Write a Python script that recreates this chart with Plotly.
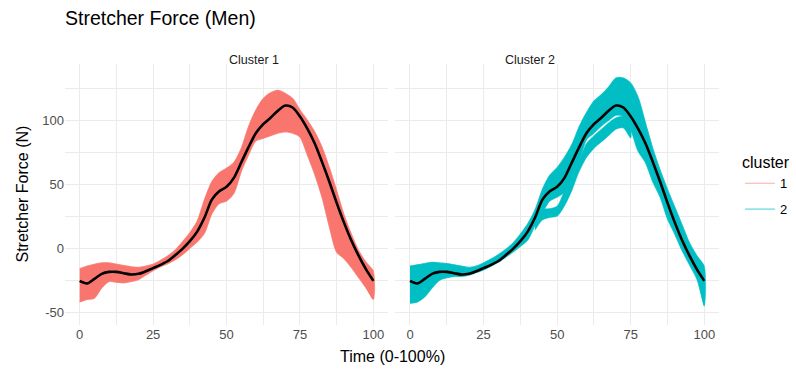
import plotly.graph_objects as go

# ---- data ----
time_pct = [0, 2.5, 5, 7.5, 10, 12.5, 15, 17.5, 20, 22.5, 25, 27.5, 30, 32.5, 35, 37.5, 40,
            42.5, 45, 47.5, 50, 52.5, 55, 57.5, 60, 62.5, 65, 67.5, 70, 72.5, 75, 77.5, 80,
            82.5, 85, 87.5, 90, 92.5, 95, 97.5, 100]

mean_force = [-25.5, -27.5, -24, -20, -18.5, -18.5, -19.5, -20.5, -20, -18, -15.5, -13, -10,
              -5.5, -0.5, 5.5, 13, 24, 38, 44.5, 48, 55, 67, 79, 90, 97, 102, 107.5, 111.5,
              110, 103, 93.5, 82, 67.5, 52, 35.5, 20, 6, -6, -16.5, -25.5]

c1_upper = [-16, -14, -12.5, -11.5, -11.5, -12.5, -13.5, -14.5, -15, -14, -12.5, -9.5, -6,
            -1.5, 5, 12, 21, 38, 52, 59, 62.5, 67, 78, 95, 108, 117, 121.5, 123.5, 121, 117,
            108, 100, 91, 79, 63, 45, 26, 11, -2, -11, -18]
c1_lower = [-42, -40, -39, -31, -26, -26.5, -27, -26, -24.5, -21, -17.5, -14.5, -12, -9, -5,
            0, 5, 12, 27, 35, 37, 43, 60, 73, 84, 86, 88, 90, 91, 90, 87, 73, 58, 40, 17, -3,
            -8, -15, -23, -31, -40]

c2_upper = [-14, -13, -12, -11, -11.5, -12, -13, -14, -15, -14, -11.5, -8.5, -5, -1, 4, 11,
            19, 30, 46, 57, 63, 71, 81, 95, 106, 115, 120, 126, 133, 133, 129, 118, 98, 78,
            61, 46, 32, 18, 4, -6, -14]
c2_main_lower = [-43, -42, -38, -31, -25, -23, -22, -22, -21, -19, -17, -14, -11, -7, -3,
                 1.5, 6.5, 18, 28, 37, 40, 44, 55, 68, 85, 90, 95.5, 100, 104, 103, 93, 76,
                 67, 52, 40, 23, 11, -2, -13, -24, -45]
strand_time = [42.5, 45, 47.5, 50, 52.5, 55, 57.5, 60, 62.5, 65, 67.5, 70, 72.5, 75]
c2_strand_upper = [20, 30, 31, 33, 45, 55, 68, 82, 88, 93, 98, 102, 103, 93]
c2_strand_lower = [14, 22, 24, 25, 33, 45, 60, 71, 78, 83, 88, 93, 94, 86]

clusters = ["1", "2"]
cluster_colors = ["#F8766D", "#00BFC4"]
facet_titles = ["Cluster 1", "Cluster 2"]
x_ticks = [0, 25, 50, 75, 100]
x_tick_text = ["0", "25", "50", "75", "100"]
y_ticks = [-50, 0, 50, 100]
y_tick_text = ["-50", "0", "50", "100"]

FONT = "Liberation Sans, Arial, sans-serif"

fig = go.Figure()


def band(xs, hi, lo, color, xa, ya):
    fig.add_trace(go.Scatter(
        x=list(xs) + list(xs)[::-1], y=list(hi) + list(lo)[::-1],
        fill="toself", fillcolor=color, mode="lines",
        line=dict(color=color, width=0.5, shape="spline", smoothing=0.8),
        hoverinfo="skip", showlegend=False, xaxis=xa, yaxis=ya))


def edge(xs, ys, color, xa, ya, name=None, legend=False):
    fig.add_trace(go.Scatter(
        x=xs, y=ys, mode="lines", name=name, legendgroup=name,
        line=dict(color=color, width=1.2, shape="spline", smoothing=0.8),
        opacity=0.6, showlegend=legend, xaxis=xa, yaxis=ya))


# cluster 1 panel
band(time_pct, c1_upper, c1_lower, cluster_colors[0], "x", "y")
edge(time_pct, c1_upper, cluster_colors[0], "x", "y", name=clusters[0], legend=True)
edge(time_pct, c1_lower, cluster_colors[0], "x", "y", name=clusters[0])

# cluster 2 panel
band(time_pct, c2_upper, c2_main_lower, cluster_colors[1], "x2", "y2")
band(strand_time, c2_strand_upper, c2_strand_lower, cluster_colors[1], "x2", "y2")
edge(time_pct, c2_upper, cluster_colors[1], "x2", "y2", name=clusters[1], legend=True)
edge(time_pct, c2_main_lower, cluster_colors[1], "x2", "y2", name=clusters[1])

# mean curves
for xa, ya in [("x", "y"), ("x2", "y2")]:
    fig.add_trace(go.Scatter(
        x=time_pct, y=mean_force, mode="lines",
        line=dict(color="black", width=2.6, shape="spline", smoothing=0.8),
        showlegend=False, xaxis=xa, yaxis=ya))

grid = "#EBEBEB"
xcommon = dict(range=[-5, 105], tickmode="array", tickvals=x_ticks, ticktext=x_tick_text,
               showgrid=True, gridcolor=grid, gridwidth=1.1, zeroline=False,
               showline=False, ticks="",
               tickfont=dict(family=FONT, size=13, color="#4D4D4D"),
               minor=dict(tickmode="array", tickvals=[12.5, 37.5, 62.5, 87.5],
                          showgrid=True, gridcolor=grid, gridwidth=0.7))
ycommon = dict(range=[-60, 144], tickmode="array", tickvals=y_ticks, ticktext=y_tick_text,
               showgrid=True, gridcolor=grid, gridwidth=1.1, zeroline=False,
               showline=False, ticks="",
               tickfont=dict(family=FONT, size=13, color="#4D4D4D"),
               minor=dict(tickmode="array", tickvals=[-25, 25, 75, 125],
                          showgrid=True, gridcolor=grid, gridwidth=0.7))

fig.update_layout(
    width=796, height=371,
    margin=dict(l=65, r=77, t=64, b=46, autoexpand=False),
    paper_bgcolor="white", plot_bgcolor="white",
    font=dict(family=FONT, color="black"),
    xaxis=dict(domain=[0, 0.494], anchor="y", **xcommon),
    xaxis2=dict(domain=[0.505, 1], anchor="y2", **xcommon),
    yaxis=dict(domain=[0, 1], anchor="x", **ycommon),
    yaxis2=dict(domain=[0, 1], anchor="x2", matches="y", showticklabels=False,
                **{k: v for k, v in ycommon.items() if k != "tickfont"}),
    showlegend=True,
    legend=dict(title=dict(text="cluster", font=dict(family=FONT, size=16, color="black")),
                font=dict(family=FONT, size=13, color="black"),
                x=1.032, y=0.68, xanchor="left", yanchor="top",
                tracegroupgap=6, bgcolor="rgba(0,0,0,0)"),
    title=dict(text="Stretcher Force (Men)", x=65 / 796, xanchor="left",
               y=1 - 18 / 371, yanchor="middle",
               font=dict(family=FONT, size=19.5, color="black")),
)

annotations = [
    dict(text=facet_titles[0], x=0.247, y=1.05, xref="paper", yref="paper",
         showarrow=False, font=dict(family=FONT, size=12.5, color="#1A1A1A")),
    dict(text=facet_titles[1], x=0.7525, y=1.05, xref="paper", yref="paper",
         showarrow=False, font=dict(family=FONT, size=12.5, color="#1A1A1A")),
    dict(text="Time (0-100%)", x=0.5, y=-0.1226, xref="paper", yref="paper",
         showarrow=False, yanchor="middle",
         font=dict(family=FONT, size=16, color="black")),
    dict(text="Stretcher Force (N)", x=-0.0657, y=0.5, xref="paper", yref="paper",
         showarrow=False, textangle=-90, xanchor="center", yanchor="middle",
         font=dict(family=FONT, size=16, color="black")),
]
fig.update_layout(annotations=annotations)

fig.write_html(
    "out.html",
    config={"displayModeBar": False},
    post_script="document.body.style.margin='0';document.body.style.overflow='hidden';",
)
